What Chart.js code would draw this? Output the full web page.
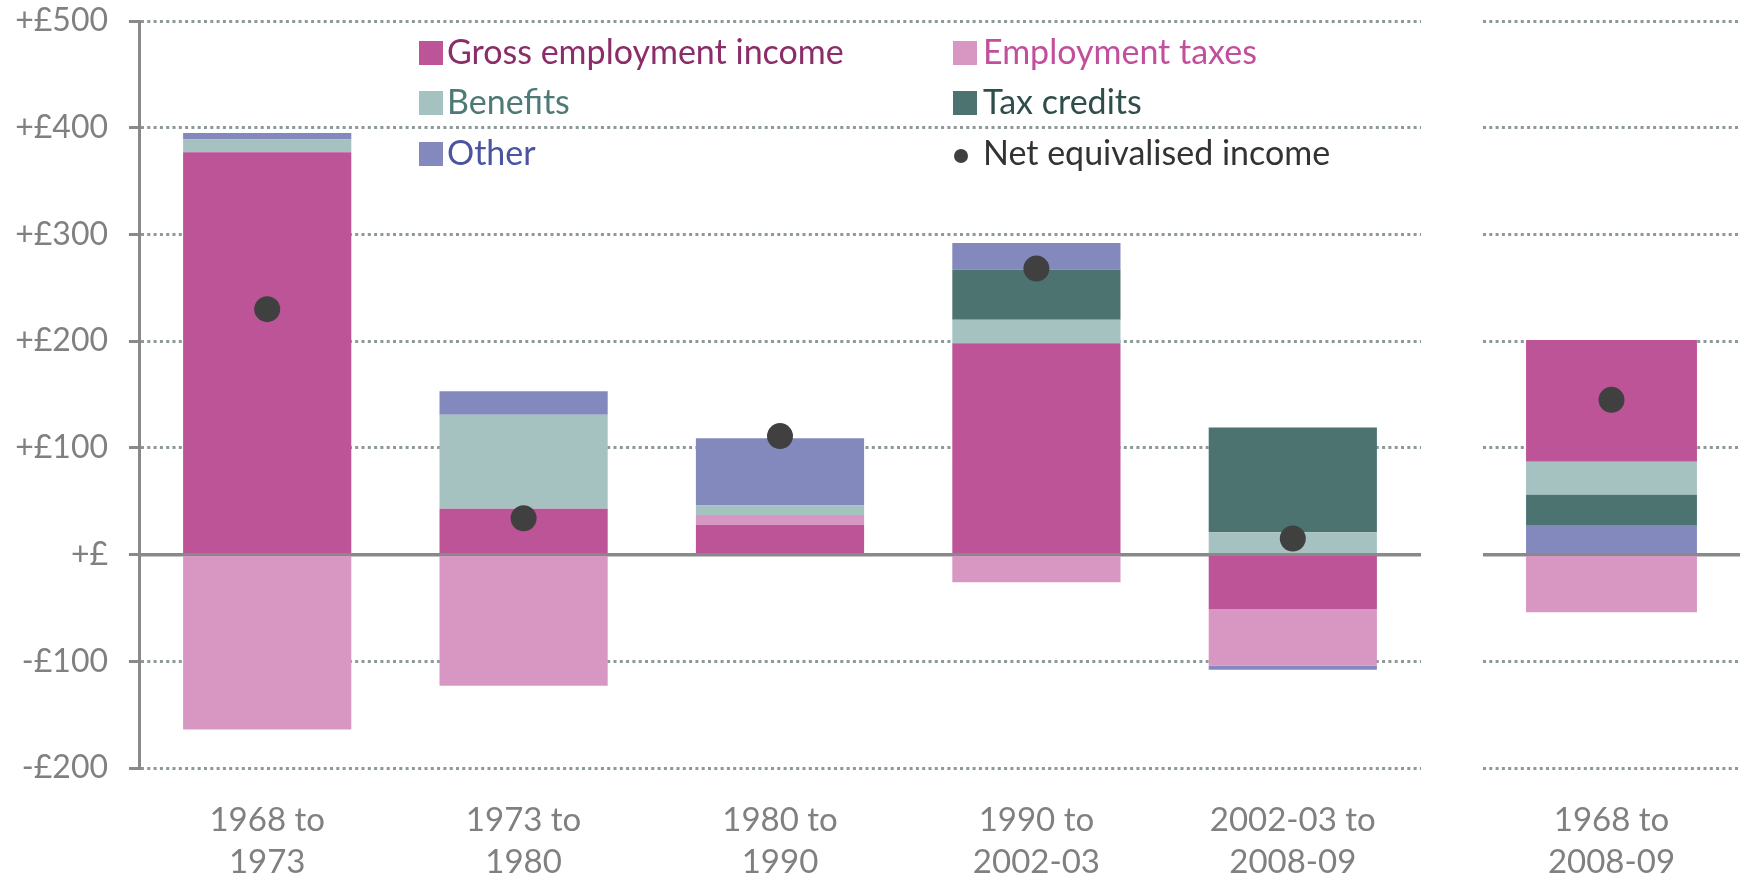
<!DOCTYPE html>
<html>
<head>
<meta charset="utf-8">
<script src="https://cdn.jsdelivr.net/npm/chart.js@4.4.1/dist/chart.umd.min.js"></script>
<style>
  html, body { margin: 0; padding: 0; background: #ffffff; }
  body { width: 1748px; height: 878px; position: relative; overflow: hidden; font-family: Lato, "Open Sans", sans-serif; }
  .box { position: absolute; top: 0; height: 878px; }
  #leftBox { left: 0; width: 1421px; }
  #rightBox { left: 1483px; width: 257px; }
  .legend { position: absolute; font-size: 34px; line-height: 1; white-space: nowrap; }
  .legend .sw { position: absolute; width: 24px; height: 24px; }
  .legend .dot { position: absolute; width: 14px; height: 14px; border-radius: 50%; background: #404040; }
  .legend .tx { position: absolute; }
</style>
</head>
<body>
<div class="box" id="leftBox"><canvas id="left"></canvas></div>
<div class="box" id="rightBox"><canvas id="right"></canvas></div>
<div id="legend"></div>
<script>
// ---- data (last entry = the separate "1968 to 2008-09" summary bar) ----
const categories = [['1968 to', '1973'], ['1973 to', '1980'], ['1980 to', '1990'], ['1990 to', '2002-03'], ['2002-03 to', '2008-09'], ['1968 to', '2008-09']];
const grossEmployment = [377, 43, 28, 198, -51, 114];
const employmentTaxes = [-164, -123, 9, -26, -53, -54];
const benefits        = [12, 88, 9, 22, 21, 31];
const taxCredits      = [0, 0, 0, 47, 98, 29];
const other           = [6, 22, 63, 25, -4, 27];
const netIncome       = [230, 34, 111, 268, 15, 145];
const yTickValues = [-200, -100, 0, 100, 200, 300, 400, 500];
const yTickLabels = ['-£200', '-£100', '+£', '+£100', '+£200', '+£300', '+£400', '+£500'];
const seriesNames = ['Gross employment income', 'Employment taxes', 'Benefits', 'Tax credits', 'Other', 'Net equivalised income'];

const COL = {
  gross: '#BD5497', emp: '#D897C2', ben: '#A5C2C1', tax: '#4D7371', other: '#8489BD', net: '#404040'
};
const TEXTCOL = ['#8B2D68', '#C24F9C', '#4D7A76', '#2F4E4B', '#4B54A0', '#333333'];
const AXIS = '#898989';
const GRID = '#8C9A97';
const FONT = { family: 'Lato, "Open Sans", sans-serif', size: 32 };

function yScales(showLabels) {
  return {
    y: {
      stacked: true, min: -200, max: 500,
      afterBuildTicks: s => { s.ticks = yTickValues.map(v => ({ value: v })); },
      afterFit: s => { s.width = showLabels ? 139 : 0; s.paddingTop = 0; s.paddingBottom = 0; },
      ticks: {
        display: showLabels, color: '#808080', font: FONT, padding: 21,
        callback: v => yTickLabels[yTickValues.indexOf(v)]
      },
      grid: {
        color: c => (c.tick && c.tick.value === 0) ? AXIS : GRID,
        lineWidth: 3,
        drawTicks: showLabels, tickLength: 10, tickColor: AXIS, tickWidth: 3, tickBorderDash: []
      },
      border: {
        display: showLabels, color: AXIS, width: 3,
        dash: c => (c.tick && c.tick.value === 0) ? [] : [3, 3.3]
      }
    },
    yZero: {
      position: 'left', min: -200, max: 500, z: 1,
      afterBuildTicks: s => { s.ticks = yTickValues.map(v => ({ value: v })); },
      afterFit: s => { s.width = 0; s.paddingTop = 0; s.paddingBottom = 0; },
      ticks: { display: false },
      grid: {
        color: c => (c.tick && c.tick.value === 0) ? AXIS : 'rgba(0,0,0,0)',
        lineWidth: 3.5, drawTicks: false
      },
      border: { display: false }
    },
    x: {
      stacked: true, offset: true,
      afterFit: s => { s.height = 110; s.paddingLeft = 0; s.paddingRight = 0; },
      grid: { display: false, drawTicks: false },
      border: { display: false },
      ticks: { color: '#808080', font: { ...FONT, size: 33, lineHeight: 1.28 }, padding: 31, maxRotation: 0, autoSkip: false }
    }
  };
}

function makeChart(id, idx, barPct, reversedStack, padTop) {
  const pick = arr => idx.map(i => arr[i]);
  const bars = [
    { label: seriesNames[0], data: pick(grossEmployment), backgroundColor: COL.gross },
    { label: seriesNames[1], data: pick(employmentTaxes), backgroundColor: COL.emp },
    { label: seriesNames[2], data: pick(benefits), backgroundColor: COL.ben },
    { label: seriesNames[3], data: pick(taxCredits), backgroundColor: COL.tax },
    { label: seriesNames[4], data: pick(other), backgroundColor: COL.other }
  ];
  // summary bar stacks Other, Tax credits, Benefits, then Gross upward
  const ordered = reversedStack ? [bars[4], bars[3], bars[2], bars[0], bars[1]] : bars;
  ordered.forEach(d => {
    d.type = 'bar'; d.order = 1; d.stack = 's';
    d.categoryPercentage = 1; d.barPercentage = barPct; d.borderWidth = 0;
  });
  const net = {
    type: 'line', label: seriesNames[5], data: pick(netIncome), order: 0,
    showLine: false, pointRadius: 13, pointHoverRadius: 13, clip: false,
    pointBackgroundColor: COL.net, pointBorderWidth: 0, borderColor: COL.net
  };
  return new Chart(document.getElementById(id), {
    type: 'bar',
    data: { labels: pick(categories), datasets: [...ordered, net] },
    options: {
      responsive: true, maintainAspectRatio: false, animation: false,
      layout: { autoPadding: false, padding: { top: padTop, right: 0, bottom: 0, left: 0 } },
      plugins: { legend: { display: false }, tooltip: { enabled: false } },
      scales: yScales(id === 'left')
    }
  });
}

makeChart('left', [0, 1, 2, 3, 4], 0.656, false, 21);
makeChart('right', [5], 0.665, true, 21);

// ---- legend (2 columns x 3 rows) ----
const legendItems = [
  { name: seriesNames[0], color: COL.gross, col: 0, row: 0, t: 0 },
  { name: seriesNames[1], color: COL.emp, col: 1, row: 0, t: 1 },
  { name: seriesNames[2], color: COL.ben, col: 0, row: 1, t: 2 },
  { name: seriesNames[3], color: COL.tax, col: 1, row: 1, t: 3 },
  { name: seriesNames[4], color: COL.other, col: 0, row: 2, t: 4 },
  { name: seriesNames[5], color: null, col: 1, row: 2, t: 5 }
];
const lg = document.getElementById('legend');
const colX = [419, 953];
const rowY = [53, 103, 154];
legendItems.forEach(it => {
  const wrap = document.createElement('div');
  wrap.className = 'legend';
  wrap.style.left = colX[it.col] + 'px';
  wrap.style.top = rowY[it.row] + 'px';
  const mark = document.createElement('div');
  if (it.color) {
    mark.className = 'sw'; mark.style.background = it.color;
    mark.style.left = '0px'; mark.style.top = '-12px';
  } else {
    mark.className = 'dot'; mark.style.left = '1px'; mark.style.top = '-5px';
  }
  const tx = document.createElement('div');
  tx.className = 'tx'; tx.textContent = it.name; tx.style.color = TEXTCOL[it.t];
  tx.style.left = (it.col === 0 ? 28 : 30) + 'px'; tx.style.top = '-19px';
  wrap.appendChild(mark); wrap.appendChild(tx);
  lg.appendChild(wrap);
});
</script>
</body>
</html>
